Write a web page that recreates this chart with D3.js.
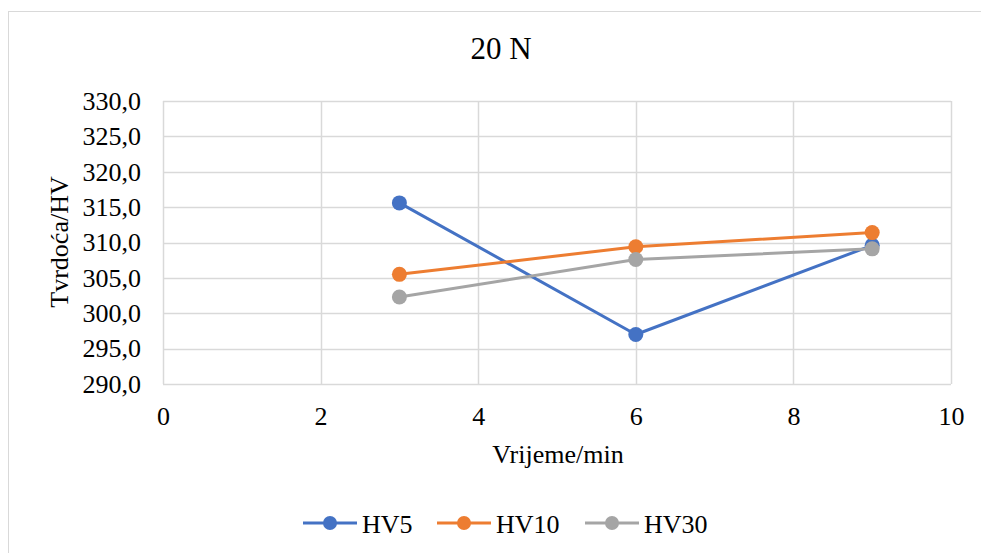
<!DOCTYPE html>
<html>
<head>
<meta charset="utf-8">
<script src="https://cdn.jsdelivr.net/npm/d3@7"></script>
<style>
  body { margin: 0; background: #fff; }
</style>
</head>
<body>
<div id="chart"></div>
<script>
// data
const times = [3, 6, 9];
const hv5 = [315.6, 297.0, 309.6];
const hv10 = [305.5, 309.4, 311.4];
const hv30 = [302.3, 307.6, 309.1];
const seriesNames = ["HV5", "HV10", "HV30"];
const seriesColors = ["#4472c4", "#ed7d31", "#a5a5a5"];
const xTicks = [0, 2, 4, 6, 8, 10];
const yTicks = [290, 295, 300, 305, 310, 315, 320, 325, 330];

const font = "'Liberation Serif', 'Times New Roman', serif";
const width = 981, height = 553;
const margin = {top: 101, right: 30, bottom: 169, left: 163};
const innerW = width - margin.left - margin.right;
const innerH = height - margin.top - margin.bottom;

const svg = d3.select("#chart").append("svg")
  .attr("width", width)
  .attr("height", height);

// outer chart border
svg.append("rect")
  .attr("x", 8.5).attr("y", 11.5)
  .attr("width", 990).attr("height", 600)
  .attr("fill", "none")
  .attr("stroke", "#d9d9d9");

const g = svg.append("g")
  .attr("transform", `translate(${margin.left},${margin.top})`);

const x = d3.scaleLinear().domain([0, 10]).range([0, innerW]);
const y = d3.scaleLinear().domain([290, 330]).range([innerH, 0]);

// grid
g.append("g")
  .selectAll("line")
  .data(yTicks)
  .join("line")
    .attr("x1", 0).attr("x2", innerW)
    .attr("y1", d => Math.round(y(d)) + 0.5)
    .attr("y2", d => Math.round(y(d)) + 0.5)
    .attr("stroke", "#d9d9d9")
    .attr("stroke-width", 1.5);

g.append("g")
  .selectAll("line")
  .data(xTicks)
  .join("line")
    .attr("x1", d => Math.round(x(d)) + 0.5)
    .attr("x2", d => Math.round(x(d)) + 0.5)
    .attr("y1", 0).attr("y2", innerH)
    .attr("stroke", "#d9d9d9")
    .attr("stroke-width", 1.5);

// axes (labels only)
const fmt = d => d3.format(".1f")(d).replace(".", ",");

const yAxis = g.append("g")
  .call(d3.axisLeft(y).tickValues(yTicks).tickFormat(fmt).tickSize(0).tickPadding(22));
yAxis.select(".domain").remove();
yAxis.selectAll("text")
  .style("font-family", font)
  .style("font-size", "26px")
  .attr("fill", "#000");

const xAxis = g.append("g")
  .attr("transform", `translate(0,${innerH})`)
  .call(d3.axisBottom(x).tickValues(xTicks).tickFormat(d3.format("d")).tickSize(0));
xAxis.select(".domain").remove();
xAxis.selectAll("text")
  .attr("y", 41)
  .attr("dy", null)
  .style("font-family", font)
  .style("font-size", "26px")
  .attr("fill", "#000");

// titles
svg.append("text")
  .attr("x", 501).attr("y", 59)
  .attr("text-anchor", "middle")
  .style("font-family", font)
  .style("font-size", "31px")
  .text("20 N");

svg.append("text")
  .attr("x", 558).attr("y", 463)
  .attr("text-anchor", "middle")
  .style("font-family", font)
  .style("font-size", "26px")
  .text("Vrijeme/min");

svg.append("text")
  .attr("transform", "translate(68,242) rotate(-90)")
  .attr("text-anchor", "middle")
  .style("font-family", font)
  .style("font-size", "26px")
  .text("Tvrdoća/HV");

// series
const allSeries = [hv5, hv10, hv30];
const line = d3.line()
  .x((d, i) => x(times[i]))
  .y(d => y(d));

allSeries.forEach((vals, k) => {
  g.append("path")
    .datum(vals)
    .attr("fill", "none")
    .attr("stroke", seriesColors[k])
    .attr("stroke-width", 3)
    .attr("stroke-linejoin", "round")
    .attr("d", line);
  g.append("g")
    .selectAll("circle")
    .data(vals)
    .join("circle")
      .attr("cx", (d, i) => x(times[i]))
      .attr("cy", d => y(d))
      .attr("r", 7.5)
      .attr("fill", seriesColors[k]);
});

// legend
const legendX = [303, 437, 585];
const legend = svg.append("g").attr("transform", "translate(0,523)");
seriesNames.forEach((name, k) => {
  const lg = legend.append("g").attr("transform", `translate(${legendX[k]},0)`);
  lg.append("line")
    .attr("x1", 0).attr("x2", 54)
    .attr("stroke", seriesColors[k])
    .attr("stroke-width", 3);
  lg.append("circle")
    .attr("cx", 27).attr("r", 7)
    .attr("fill", seriesColors[k]);
  lg.append("text")
    .attr("x", 59).attr("y", 10)
    .style("font-family", font)
    .style("font-size", "26px")
    .text(name);
});
</script>
</body>
</html>
